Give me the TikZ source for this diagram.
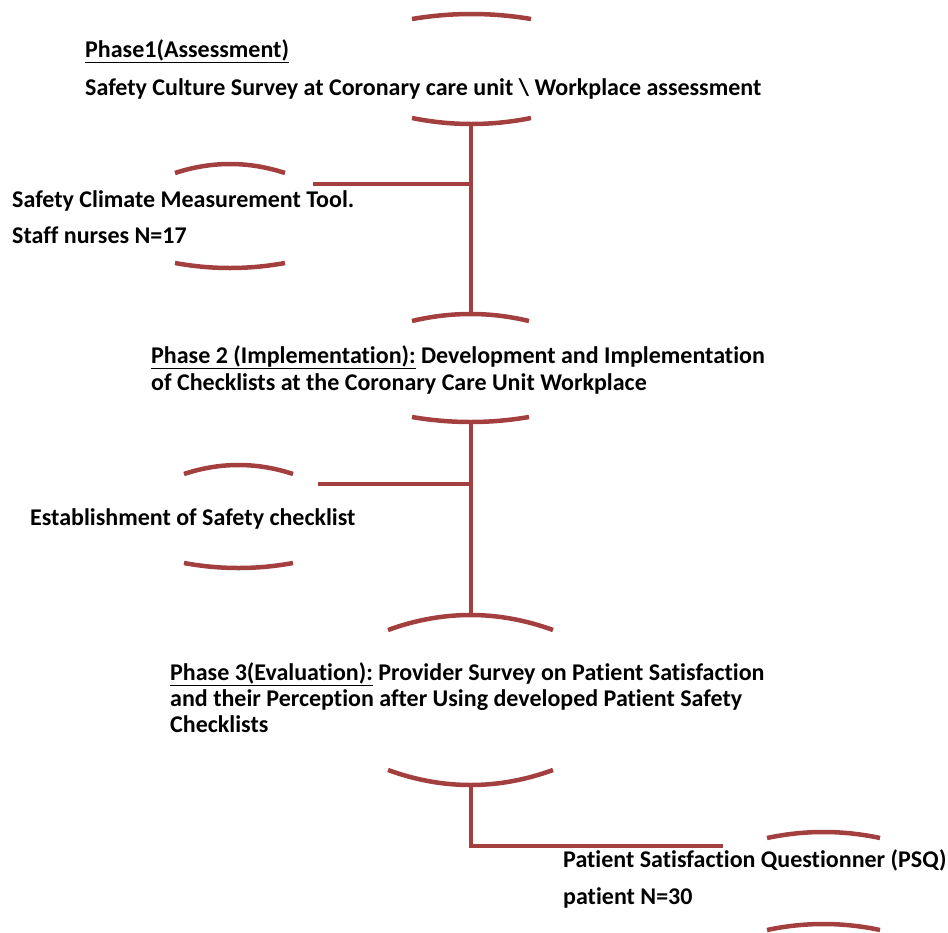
\documentclass[tikz,border=0pt]{standalone}
\usepackage{fontspec}
\setmainfont{Carlito}[Ligatures={NoCommon}]
\definecolor{arcred}{HTML}{A3403F}
\tikzset{
  arcline/.style={draw=arcred, line width=4.5pt},
  conn/.style={draw=arcred, line width=4pt},
  txt/.style={anchor=base west, inner sep=0pt, font=\fontsize{24}{27}\selectfont\bfseries}
}
% arc: x1, x2, y at ends, sag (negative = bulge up in picture)
\newcommand{\myarc}[4]{%
  \draw[arcline] (#1,#3) .. controls ({#1+(#2-#1)/3},{#3+4*#4/3}) and ({#2-(#2-#1)/3},{#3+4*#4/3}) .. (#2,#3);}
\begin{document}
\begin{tikzpicture}[x=1pt,y=-1pt]
\useasboundingbox (0,0) rectangle (948,932);
% phase 1 shape
\myarc{412}{531}{19}{-5}
\myarc{412}{531}{118}{6}
\coordinate (p1b) at (471,124);
% phase 2 shape
\myarc{412}{529}{321}{-7}
\myarc{412}{529}{417}{5}
\coordinate (p2t) at (471,314);
\coordinate (p2b) at (471,422);
% phase 3 shape
\myarc{388}{553}{630}{-15}
\myarc{388}{553}{770}{15}
\coordinate (p3t) at (471,615);
\coordinate (p3b) at (471,785);
% side shape 1
\myarc{175}{285}{173}{-9}
\myarc{175}{285}{263}{5}
\coordinate (s1) at (313,184);
% side shape 2
\myarc{184}{293}{474}{-9}
\myarc{184}{293}{563}{5}
\coordinate (s2) at (318,484);
% PSQ shape
\myarc{767}{880}{838}{-6}
\myarc{767}{880}{930}{-6}
\coordinate (s3) at (723,846);
% connectors
\draw[conn] (p1b) -- (p2t);
\draw[conn] (s1) -- (s1 -| p1b);
\draw[conn] (p2b) -- (p3t);
\draw[conn] (s2) -- (s2 -| p2b);
\draw[conn] (p3b) |- (s3);
% texts
\node[txt] (t1a) at (85,57) {\underline{Phase1(Assessment)}};
\node[txt] (t1b) at (85,95) {Safety Culture Survey at Coronary care unit \textbackslash\ Workplace assessment};
\node[txt] (ts1a) at (12,207) {Safety Climate Measurement Tool.};
\node[txt] (ts1b) at (12,243) {Staff nurses N=17};
\node[txt] (t2a) at (151,363) {\underline{Phase 2 (Implementation):} Development and Implementation};
\node[txt] (t2b) at (151,390) {of Checklists at the Coronary Care Unit Workplace};
\node[txt] (ts2) at (30,525) {Establishment of Safety checklist};
\node[txt] (t3a) at (170,680) {\underline{Phase 3(Evaluation):} Provider Survey on Patient Satisfaction};
\node[txt] (t3b) at (170,706) {and their Perception after Using developed Patient Safety};
\node[txt] (t3c) at (170,732) {Checklists};
\node[txt] (ts3a) at (563,867) {Patient Satisfaction Questionner (PSQ)};
\node[txt] (ts3b) at (563,904) {patient N=30};
\end{tikzpicture}
\end{document}
